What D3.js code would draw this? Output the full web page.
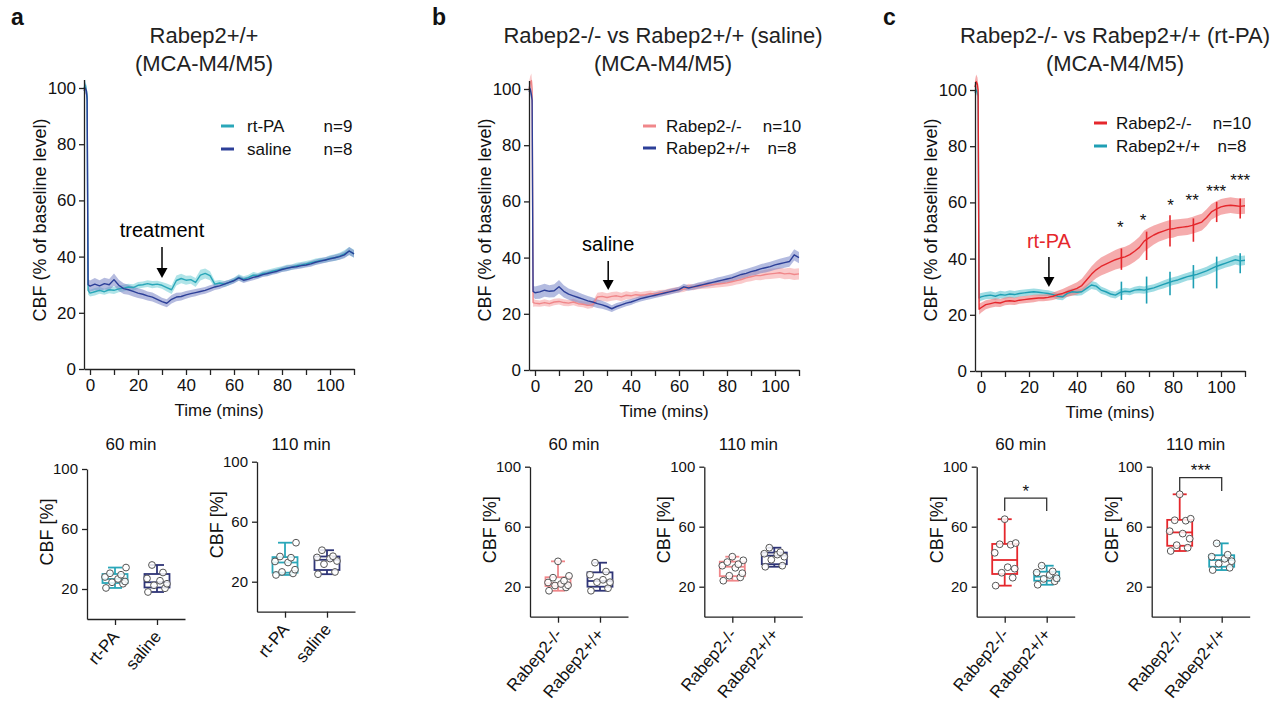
<!DOCTYPE html>
<html>
<head>
<meta charset="utf-8">
<script src="https://cdn.jsdelivr.net/npm/d3@7"></script>
<style>
body { margin: 0; background: #fff; }
svg { font-family: "Liberation Sans", Arial, sans-serif; }
</style>
</head>
<body>
<svg id="fig" width="1282" height="708"></svg>
<script>
// ---- time course data (mean and SEM, % of baseline) ----
const minutes = [-2.5, -2, -1.5, -1.2, -0.8,
  0, 2, 4, 6, 8, 10, 12, 14, 16, 18,
  20, 22, 24, 26, 28, 30, 32, 34, 36, 38,
  40, 42, 44, 46, 48, 50, 52, 54, 56, 58,
  60, 62, 64, 66, 68, 70, 72, 74, 76, 78,
  80, 82, 84, 86, 88, 90, 92, 94, 96, 98,
  100, 102, 104, 106, 108, 110];

const aRtpaMean = [100, 101, 99, 97, 28,
  27, 27.5, 28, 27.5, 28.2, 28, 28.5, 28.8, 29.2, 29,
  29.8, 30, 30.4, 30, 30.2, 29.8, 29, 28.2, 31.5, 32.2,
  31.6, 31.8, 30.8, 33.4, 34, 33.2, 30.2, 30.6, 30.2, 30.8,
  31.6, 32.6, 32, 32.5, 33.4, 33.2, 34, 34.2, 34.8, 35.2,
  35.6, 36, 36.2, 36.8, 37, 37.4, 37.8, 38.2, 38.6, 38.8,
  39.4, 39.6, 40.2, 41, 42, 41];
const aRtpaSem = [2, 2, 2, 2, 1.5,
  1.2, 1.3, 1.2, 1.1, 1.2, 1.3, 1.2, 1.2, 1.1, 1.2,
  1.2, 1.1, 1.2, 1.3, 1.2, 1.2, 1.4, 1.5, 1.8, 1.7,
  1.6, 1.5, 1.6, 1.9, 1.8, 1.6, 1.2, 1.1, 1.1, 1.0,
  1, 1.1, 1, 1, 1.1, 1, 1, 1.1, 1, 1,
  1, 1.1, 1, 1, 1.1, 1, 1, 1.1, 1, 1,
  1.1, 1.2, 1.2, 1.3, 1.4, 1.4];
const aSalineMean = [99, 100, 99, 96, 30,
  29.5, 30.2, 29.6, 30.4, 30, 31.8, 29.8, 28.6, 28.2, 27.6,
  27, 26.6, 26, 25.6, 24.8, 24, 23.4, 24.8, 25.6, 25.8,
  26.4, 26.8, 27.2, 27.6, 28, 28.6, 29.2, 29.6, 30.2, 30.8,
  31.4, 32.4, 31.6, 32, 32.6, 33, 33.6, 34, 34.4, 34.8,
  35.4, 35.8, 36.2, 36.4, 36.8, 37, 37.4, 38, 38.4, 38.8,
  39.2, 39.6, 40, 40.6, 42, 41];
const aSalineSem = [2, 2, 2, 2, 2,
  2, 2.2, 2, 2.1, 2, 2.2, 2, 1.9, 1.8, 1.8,
  1.7, 1.7, 1.6, 1.6, 1.5, 1.4, 1.4, 1.5, 1.5, 1.4,
  1.4, 1.3, 1.3, 1.2, 1.2, 1.2, 1.1, 1.1, 1, 1,
  1, 1, 1, 0.9, 1, 0.9, 0.9, 1, 0.9, 0.9,
  0.9, 1, 0.9, 0.9, 1, 0.9, 1, 1, 1, 1,
  1, 1.1, 1.1, 1.2, 1.4, 1.3];

const bKoMean = [100, 102, 103, 100, 24,
  23.8, 23.6, 24, 23.6, 24.2, 24.4, 24, 23.8, 24.2, 23.6,
  23.4, 23, 23.2, 26, 26.2, 25.8, 26.2, 26.4, 26, 26.6,
  26.4, 26.8, 26.6, 26.8, 27.2, 27, 27.4, 27.6, 28, 28.4,
  28.6, 28.8, 29.6, 29.4, 29.8, 30, 30.2, 30.4, 30.6, 30.8,
  31, 31.4, 31.8, 32.2, 32.8, 33.2, 33.6, 33.6, 34, 34.2,
  34.4, 34.6, 34.2, 34.4, 34, 34.2];
const bKoSem = [2.5, 2.5, 2.5, 2.5, 1.5,
  1.2, 1.1, 1.2, 1.1, 1.2, 1.1, 1.2, 1.1, 1.2, 1.1,
  1.1, 1.2, 1.1, 1.5, 1.6, 1.5, 1.6, 1.5, 1.5, 1.4,
  1.3, 1.3, 1.2, 1.2, 1.1, 1.1, 1.1, 1, 1, 1,
  1, 1, 1.1, 1, 1.1, 1.1, 1.2, 1.2, 1.2, 1.3,
  1.3, 1.4, 1.4, 1.5, 1.5, 1.6, 1.6, 1.7, 1.7, 1.8,
  1.8, 1.9, 1.9, 2, 2, 2];
const bWtMean = [99, 100, 98, 96, 28,
  27.5, 27.8, 28.4, 28, 28.2, 29.6, 28, 27, 26.4, 25.8,
  25.2, 24.6, 24.2, 23.6, 23.2, 22.6, 21.8, 22.6, 23.2, 23.8,
  24.2, 24.8, 25.4, 25.8, 26.2, 26.6, 27, 27.4, 27.8, 28.2,
  28.6, 29.6, 29.2, 29.6, 30, 30.4, 30.8, 31.2, 31.6, 32,
  32.4, 32.8, 33.4, 34, 34.4, 35, 35.4, 36, 36.4, 36.8,
  37.4, 37.8, 38.2, 38.6, 41, 40];
const bWtSem = [2, 2, 2, 2, 2,
  2.2, 2.4, 2.3, 2.2, 2.3, 2.4, 2.2, 2, 2, 1.9,
  1.8, 1.7, 1.6, 1.5, 1.4, 1.3, 1.2, 1.2, 1.1, 1.1,
  1.1, 1, 1, 1, 1, 1, 1, 1, 1, 1,
  1, 1.1, 1, 1, 1.1, 1.1, 1.2, 1.2, 1.3, 1.3,
  1.3, 1.4, 1.4, 1.5, 1.5, 1.5, 1.6, 1.6, 1.7, 1.7,
  1.7, 1.8, 1.8, 1.9, 2, 2];

const cKoMean = [101, 103, 102, 100, 22,
  22.5, 23.6, 24, 24.4, 24.2, 24.8, 25, 24.8, 25.2, 25.4,
  25.6, 25.8, 26, 26, 26.2, 26.6, 27.2, 27.6, 28.2, 28.8,
  29.4, 30.4, 32.4, 34.4, 36, 37.2, 38, 38.8, 39.6, 40.2,
  40.6, 41.4, 42.6, 44, 46.2, 47.4, 48.4, 49.2, 49.8, 50.4,
  50.6, 51, 51.2, 51.4, 51.8, 52.4, 53, 54.6, 56.6, 57.6,
  58.4, 58.8, 59, 58.8, 58.6, 58.8];
const cKoSem = [2.5, 2.5, 2.5, 2.5, 2,
  1.8, 1.6, 1.5, 1.5, 1.4, 1.4, 1.4, 1.3, 1.3, 1.3,
  1.3, 1.3, 1.2, 1.2, 1.2, 1.3, 1.4, 1.6, 1.8, 2,
  2.2, 2.4, 2.6, 2.8, 3, 3.2, 3.3, 3.4, 3.5, 3.6,
  3.6, 3.6, 3.7, 3.8, 3.8, 3.6, 3.4, 3.2, 3.2, 3.2,
  3.2, 3, 3, 3, 3, 3, 3, 3, 2.8, 2.8,
  2.8, 2.8, 2.8, 2.8, 2.8, 2.8];
const cWtMean = [99, 100, 99, 98, 26,
  26.4, 26.8, 27, 26.6, 27.2, 27, 27.4, 27.2, 27.6, 27.8,
  28, 28.2, 28, 27.8, 27.6, 27.2, 26.6, 26.4, 27.6, 28.2,
  28, 28.2, 29.4, 30.6, 30.2, 28.8, 28.2, 27.4, 27, 28,
  28.4, 28.2, 28.8, 29, 28.8, 29.2, 29.6, 30.2, 30.8, 31.4,
  32, 32.4, 33, 33.6, 34, 34.4, 35, 35.6, 36.4, 37.2,
  37.8, 38.4, 39, 39.6, 39.2, 39.4];
const cWtSem = [1.5, 1.5, 1.5, 1.5, 1.5,
  1.4, 1.3, 1.4, 1.3, 1.4, 1.3, 1.3, 1.3, 1.2, 1.2,
  1.2, 1.2, 1.2, 1.1, 1.1, 1.1, 1.2, 1.2, 1.2, 1.2,
  1.2, 1.2, 1.3, 1.4, 1.4, 1.3, 1.2, 1.2, 1.2, 1.2,
  1.2, 1.2, 1.2, 1.3, 1.3, 1.3, 1.3, 1.3, 1.4, 1.4,
  1.4, 1.4, 1.4, 1.4, 1.5, 1.5, 1.5, 1.5, 1.6, 1.6,
  1.6, 1.6, 1.7, 1.7, 1.7, 1.7];

// error bars and significance in panel c
const cErrTimes = [58.5, 69, 78.75, 88.5, 98.2, 108];
const cKoErrLo = [36, 39.5, 44.3, 46, 53, 54.3];
const cKoErrHi = [43.6, 49.6, 55.4, 54.3, 60.2, 61.4];
const cWtErrLo = [25.3, 24, 27, 29.4, 29.4, 34.8];
const cWtErrHi = [31.8, 33.6, 35.3, 37.7, 40.7, 41.9];
const cStarTimes = [58, 67.5, 79, 88, 98, 108];
const cStarLevels = [52.3, 54.8, 60.1, 61.9, 65.1, 69];
const cStarLabels = ["*", "*", "*", "**", "***", "***"];

// ---- box plot data (individual animals, CBF %) ----
const a60Rtpa = [20.7, 23.5, 24.5, 25, 26.7, 28, 29.5, 30.5, 34.3];
const a60Saline = [18, 20.5, 22.5, 23.5, 25.5, 27, 31, 36];
const a110Rtpa = [24.5, 25.5, 26.5, 28, 32.8, 33.5, 36, 36.8, 46];
const a110Saline = [25, 26.5, 31.7, 33.8, 35.4, 36.2, 37, 41];
const b60Ko = [17.3, 19.5, 20.8, 21, 21.8, 22.8, 24, 26, 27.2, 36.9];
const b60Wt = [17.3, 19, 23, 23, 24.6, 28, 30.1, 36];
const b110Ko = [24, 26.2, 27.3, 29, 32.6, 34, 35, 36.4, 37.6, 40];
const b110Wt = [33.3, 34, 38, 40, 41.4, 42, 43, 46];
const c60Ko = [20.7, 26, 29.3, 32, 33, 42.6, 48, 48.3, 49.1, 65];
const c60Wt = [21.3, 23.6, 25.2, 25.6, 27.8, 29.4, 30.2, 34];
const c110Ko = [43.8, 46, 47.7, 52, 55.4, 57, 64, 64.3, 65.3, 81.6];
const c110Wt = [31.1, 32.6, 35.4, 37, 38.6, 40, 41.3, 48.9];

const yTicksLine = [0, 20, 40, 60, 80, 100];
const xTicksLine = [0, 10, 20, 30, 40, 50, 60, 70, 80, 90, 100, 110];
const yTicksBox = [20, 60, 100];

// colours
const TEAL = "#2aa7b9", NAVY = "#2c3f98", PINK = "#f0878a", RED = "#e5272c";
const BOX_NAVY = "#2f3577";

const svg = d3.select("#fig");

const linePanels = [
  { letter: "a", letterX: 11, axisX: 84, y0: 369, titleX: 204,
    title: ["Rabep2+/+", "(MCA-M4/M5)"],
    series: [
      { name: "rt-PA", n: "n=9", mean: aRtpaMean, sem: aRtpaSem, color: TEAL, band: "#6fcdd6", op: 0.55 },
      { name: "saline", n: "n=8", mean: aSalineMean, sem: aSalineSem, color: NAVY, band: "#7983c4", op: 0.55 }
    ],
    order: [0, 1], legend: { sw: 137, tx: 163, nx: 254, rows: [126, 149] },
    note: { text: "treatment", t: 30, color: "#000", base: 237, a0: 247, a1: 278 } },
  { letter: "b", letterX: 432, axisX: 529, y0: 370, titleX: 663,
    title: ["Rabep2-/- vs Rabep2+/+ (saline)", "(MCA-M4/M5)"],
    series: [
      { name: "Rabep2-/-", n: "n=10", mean: bKoMean, sem: bKoSem, color: PINK, band: "#f6a7a9", op: 0.6 },
      { name: "Rabep2+/+", n: "n=8", mean: bWtMean, sem: bWtSem, color: NAVY, band: "#7483c6", op: 0.55 }
    ],
    order: [0, 1], legend: { sw: 114, tx: 137, nx: 253, rows: [126, 148] },
    note: { text: "saline", t: 30.5, color: "#000", base: 251, a0: 261, a1: 290 } },
  { letter: "c", letterX: 883, axisX: 975, y0: 371, titleX: 1115,
    title: ["Rabep2-/- vs Rabep2+/+ (rt-PA)", "(MCA-M4/M5)"],
    series: [
      { name: "Rabep2-/-", n: "n=10", mean: cKoMean, sem: cKoSem, color: RED, band: "#ef7476", op: 0.6,
        err: { t: cErrTimes, lo: cKoErrLo, hi: cKoErrHi } },
      { name: "Rabep2+/+", n: "n=8", mean: cWtMean, sem: cWtSem, color: "#1f9fb4", band: "#5ec4d0", op: 0.6,
        err: { t: cErrTimes, lo: cWtErrLo, hi: cWtErrHi } }
    ],
    order: [1, 0], legend: { sw: 119, tx: 141, nx: 257, rows: [123, 146] },
    note: { text: "rt-PA", t: 28.3, color: RED, base: 248, a0: 257, a1: 287 },
    stars: { t: cStarTimes, v: cStarLevels, label: cStarLabels } }
];

const boxPanels = [
  { axisX: 87, y0: 619, title: "60 min", groups: ["rt-PA", "saline"], data: [a60Rtpa, a60Saline], colors: [TEAL, BOX_NAVY] },
  { axisX: 257, y0: 611.7, title: "110 min", groups: ["rt-PA", "saline"], data: [a110Rtpa, a110Saline], colors: [TEAL, BOX_NAVY] },
  { axisX: 530, y0: 616.7, title: "60 min", groups: ["Rabep2-/-", "Rabep2+/+"], data: [b60Ko, b60Wt], colors: [PINK, BOX_NAVY] },
  { axisX: 704.3, y0: 616.7, title: "110 min", groups: ["Rabep2-/-", "Rabep2+/+"], data: [b110Ko, b110Wt], colors: [PINK, BOX_NAVY] },
  { axisX: 976.7, y0: 616.7, title: "60 min", groups: ["Rabep2-/-", "Rabep2+/+"], data: [c60Ko, c60Wt], colors: [RED, "#23a3b6"],
    sig: { label: "*", top: 79, leg: 70.5, star: 85.8 } },
  { axisX: 1151.7, y0: 616.7, title: "110 min", groups: ["Rabep2-/-", "Rabep2+/+"], data: [c110Ko, c110Wt], colors: [RED, "#23a3b6"],
    sig: { label: "***", top: 92.7, leg: 83.8, star: 100 } }
];

function styleAxis(ax, fs) {
  ax.selectAll("path,line").attr("stroke", "#222").attr("stroke-width", 1.3);
  ax.selectAll("text").attr("fill", "#111").style("font-size", fs + "px")
    .style("font-family", '"Liberation Sans", Arial, sans-serif');
}

function drawLinePanel(p) {
  const g = svg.append("g");
  const x = d3.scaleLinear().domain([-2.5, 110]).range([p.axisX, p.axisX + 270]);
  const y = d3.scaleLinear().domain([0, 103]).range([p.y0, p.y0 - 103 * 2.81]);

  g.append("text").attr("x", p.letterX).attr("y", 25).text(p.letter)
    .style("font-size", "23px").style("font-weight", "bold").attr("fill", "#111");
  p.title.forEach((t, i) => g.append("text").attr("x", p.titleX).attr("y", 43 + i * 28)
    .attr("text-anchor", "middle").style("font-size", "22px").attr("fill", "#222").text(t));

  const area = d3.area().x(d => x(d.t)).y0(d => y(d.m - d.e)).y1(d => y(d.m + d.e));
  const line = d3.line().x(d => x(d.t)).y(d => y(d.m));

  p.order.forEach(k => {
    const s = p.series[k];
    const rows = minutes.map((t, i) => ({ t: t, m: s.mean[i], e: s.sem[i] }));
    g.append("path").datum(rows).attr("d", area).attr("fill", s.band).attr("opacity", s.op);
    s.rows = rows;
  });
  p.order.forEach(k => {
    const s = p.series[k];
    g.append("path").datum(s.rows).attr("d", line).attr("fill", "none")
      .attr("stroke", s.color).attr("stroke-width", 1.4).attr("stroke-linejoin", "round");
    if (s.err) {
      g.selectAll(null).data(s.err.t).enter().append("line")
        .attr("x1", d => x(d)).attr("x2", d => x(d))
        .attr("y1", (d, i) => y(s.err.lo[i])).attr("y2", (d, i) => y(s.err.hi[i]))
        .attr("stroke", s.color).attr("stroke-width", 1.6);
    }
  });

  const ax = g.append("g").attr("transform", "translate(0," + p.y0 + ")")
    .call(d3.axisBottom(x).tickValues(xTicksLine).tickSize(6).tickSizeOuter(0).tickPadding(4)
      .tickFormat(d => d % 20 === 0 ? d : ""));
  styleAxis(ax, 17);
  const ay = g.append("g").attr("transform", "translate(" + p.axisX + ",0)")
    .call(d3.axisLeft(y).tickValues(yTicksLine).tickSize(5).tickSizeOuter(0).tickPadding(3));
  styleAxis(ay, 17);

  g.append("text").attr("x", p.axisX + 135).attr("y", p.y0 + 47).attr("text-anchor", "middle")
    .style("font-size", "17px").attr("fill", "#111").text("Time (mins)");
  g.append("text").attr("transform", "translate(" + (p.axisX - 38) + ",220) rotate(-90)")
    .attr("text-anchor", "middle").style("font-size", "18px").attr("fill", "#111")
    .text("CBF (% of baseline level)");

  // legend
  p.series.forEach((s, i) => {
    const yy = p.legend.rows[i];
    g.append("line").attr("x1", p.axisX + p.legend.sw).attr("x2", p.axisX + p.legend.sw + 13)
      .attr("y1", yy).attr("y2", yy).attr("stroke", s.color).attr("stroke-width", 3);
    g.append("text").attr("x", p.axisX + p.legend.tx).attr("y", yy + 6)
      .style("font-size", "17px").attr("fill", "#111").text(s.name);
    g.append("text").attr("x", p.axisX + p.legend.nx).attr("y", yy + 6).attr("text-anchor", "middle")
      .style("font-size", "17px").attr("fill", "#111").text(s.n);
  });

  // treatment annotation
  const nx = x(p.note.t);
  g.append("text").attr("x", nx).attr("y", p.note.base).attr("text-anchor", "middle")
    .style("font-size", "20px").attr("fill", p.note.color).text(p.note.text);
  g.append("line").attr("x1", nx).attr("x2", nx).attr("y1", p.note.a0).attr("y2", p.note.a1 - 8)
    .attr("stroke", "#000").attr("stroke-width", 1.5);
  g.append("path").attr("d", "M" + (nx - 5.5) + "," + (p.note.a1 - 10) + "L" + (nx + 5.5) + "," + (p.note.a1 - 10) + "L" + nx + "," + p.note.a1 + "Z")
    .attr("fill", "#000");

  if (p.stars) {
    g.selectAll(null).data(p.stars.t).enter().append("text")
      .attr("x", d => x(d)).attr("y", (d, i) => y(p.stars.v[i]) + 9)
      .attr("text-anchor", "middle").style("font-size", "17px").attr("fill", "#111")
      .text((d, i) => p.stars.label[i]);
  }
}

// Prism-style quantile: position (n+1)p
function q(sorted, pr) {
  const h = (sorted.length + 1) * pr;
  const lo = Math.floor(h);
  if (lo < 1) return sorted[0];
  if (lo >= sorted.length) return sorted[sorted.length - 1];
  return sorted[lo - 1] + (h - lo) * (sorted[lo] - sorted[lo - 1]);
}

const jitter = [-9, 8, -3, 10, 3, -10, 6, -5, 11, 0];

function drawBoxPanel(b) {
  const g = svg.append("g");
  const x = d3.scalePoint().domain(b.groups).range([b.axisX, b.axisX + 98]).padding(0.667);
  const y = d3.scaleLinear().domain([0, 100]).range([b.y0, b.y0 - 150]);

  g.append("text").attr("x", b.axisX + 44).attr("y", 450).attr("text-anchor", "middle")
    .style("font-size", "17px").attr("fill", "#111").text(b.title);

  b.groups.forEach((grp, k) => {
    const vals = b.data[k].slice().sort(d3.ascending);
    const q1 = q(vals, 0.25), med = q(vals, 0.5), q3 = q(vals, 0.75);
    const mn = vals[0], mx = vals[vals.length - 1];
    const cx = x(grp), col = b.colors[k], bw = 25, cw = 14;
    g.append("line").attr("x1", cx).attr("x2", cx).attr("y1", y(mx)).attr("y2", y(q3)).attr("stroke", col).attr("stroke-width", 1.8);
    g.append("line").attr("x1", cx).attr("x2", cx).attr("y1", y(q1)).attr("y2", y(mn)).attr("stroke", col).attr("stroke-width", 1.8);
    [mn, mx].forEach(v => g.append("line").attr("x1", cx - cw / 2).attr("x2", cx + cw / 2)
      .attr("y1", y(v)).attr("y2", y(v)).attr("stroke", col).attr("stroke-width", 1.8));
    g.append("rect").attr("x", cx - bw / 2).attr("y", y(q3)).attr("width", bw).attr("height", y(q1) - y(q3))
      .attr("fill", "none").attr("stroke", col).attr("stroke-width", 1.8);
    g.append("line").attr("x1", cx - bw / 2).attr("x2", cx + bw / 2).attr("y1", y(med)).attr("y2", y(med))
      .attr("stroke", col).attr("stroke-width", 1.8);
    g.selectAll(null).data(vals).enter().append("circle")
      .attr("cx", (d, i) => cx + jitter[i % jitter.length]).attr("cy", d => y(d)).attr("r", 3.4)
      .attr("fill", "#fff").attr("fill-opacity", 0.85).attr("stroke", "#555").attr("stroke-width", 1);
  });

  const ax = g.append("g").attr("transform", "translate(0," + b.y0 + ")")
    .call(d3.axisBottom(x).tickSize(6).tickSizeOuter(0).tickFormat(""));
  styleAxis(ax, 15);
  const ay = g.append("g").attr("transform", "translate(" + b.axisX + ",0)")
    .call(d3.axisLeft(y).tickValues(yTicksBox).tickSize(5).tickSizeOuter(0).tickPadding(4));
  styleAxis(ay, 15);

  b.groups.forEach(grp => {
    g.append("text").attr("transform", "translate(" + (x(grp) + 5) + "," + (b.y0 + 18) + ") rotate(-50)")
      .attr("text-anchor", "end").style("font-size", "17px").attr("fill", "#111").text(grp);
  });
  g.append("text").attr("transform", "translate(" + (b.axisX - 34) + "," + (b.y0 - 87) + ") rotate(-90)")
    .attr("text-anchor", "middle").style("font-size", "18px").attr("fill", "#111").text("CBF [%]");

  if (b.sig) {
    const x1 = x(b.groups[0]), x2 = x(b.groups[1]);
    g.append("path").attr("d", "M" + x1 + "," + y(b.sig.leg) + "V" + y(b.sig.top) + "H" + x2 + "V" + y(b.sig.leg))
      .attr("fill", "none").attr("stroke", "#333").attr("stroke-width", 1.3);
    g.append("text").attr("x", (x1 + x2) / 2).attr("y", y(b.sig.star) + 9).attr("text-anchor", "middle")
      .style("font-size", "17px").attr("fill", "#111").text(b.sig.label);
  }
}

linePanels.forEach(drawLinePanel);
boxPanels.forEach(drawBoxPanel);
</script>
</body>
</html>
